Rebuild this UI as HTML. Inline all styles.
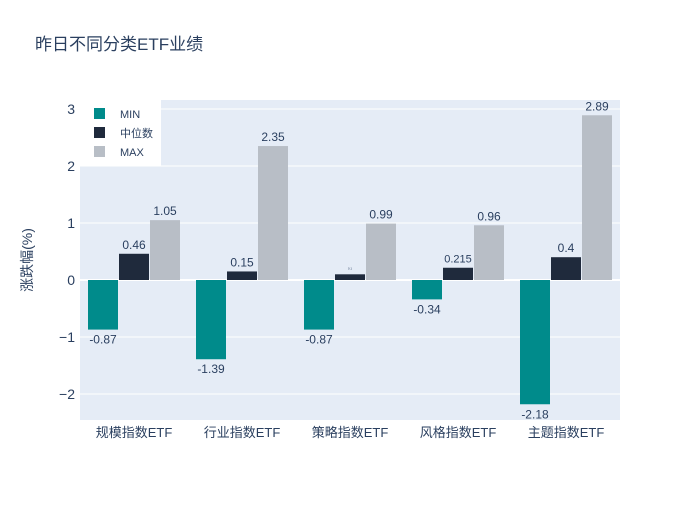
<!DOCTYPE html>
<html><head><meta charset="utf-8"><style>
body{margin:0;background:#fff;font-family:"Liberation Sans","Noto Sans CJK SC",sans-serif;}
</style></head><body>
<svg width="700" height="500" xmlns="http://www.w3.org/2000/svg" font-family="Liberation Sans, Noto Sans CJK SC, sans-serif">
<rect width="700" height="500" fill="#fff"/>
<text x="35" y="50" font-size="17" fill="#2a3f5f">昨日不同分类ETF业绩</text>
<rect x="80" y="100" width="540" height="320" fill="#e5ecf6"/>
<g id="grid"></g>
<g id="bars"></g>
<g id="labels"></g>
<g id="axes"></g>
<text transform="translate(32,260) rotate(-90)" text-anchor="middle" font-size="14" fill="#2a3f5f">涨跌幅(%)</text>
<g>
<rect x="80" y="100" width="81" height="66" fill="#fff"/>
<rect x="94" y="108" width="11" height="11" fill="#008b8b"/>
<text x="120" y="118" font-size="11" fill="#2a3f5f">MIN</text>
<rect x="94" y="127" width="11" height="11" fill="#1f2a3c"/>
<text x="120" y="137" font-size="11" fill="#2a3f5f">中位数</text>
<rect x="94" y="146" width="11" height="11" fill="#b8bec6"/>
<text x="120" y="156" font-size="11" fill="#2a3f5f">MAX</text>
</g>
</svg>
<script>
const categories=["规模指数ETF","行业指数ETF","策略指数ETF","风格指数ETF","主题指数ETF"];
const minVals=[-0.87,-1.39,-0.87,-0.34,-2.18];
const medVals=[0.46,0.15,0.1,0.215,0.4];
const maxVals=[1.05,2.35,0.99,0.96,2.89];
const medLabels=["0.46","0.15","0.1","0.215","0.4"];
const yTicks=[-2,-1,0,1,2,3];
const NS="http://www.w3.org/2000/svg";
const y=v=>280-v*57;
const x=i=>80+108*i+54;
function mk(tag,attrs,parent){const e=document.createElementNS(NS,tag);for(const k in attrs)e.setAttribute(k,attrs[k]);document.getElementById(parent).appendChild(e);return e;}
yTicks.forEach(t=>{
 if(t!==0){const g=mk('line',{x1:80,x2:620,y1:y(t),y2:y(t),stroke:'#fff','stroke-width':1},'grid');
 
 }
 const l=mk('text',{x:75,y:y(t)+5,'text-anchor':'end','font-size':14,fill:'#2a3f5f'},'axes');
 l.textContent=t<0?'\u2212'+(-t):String(t);
 
 
});
const z=mk('line',{x1:80,x2:620,y1:y(0),y2:y(0),stroke:'#fff','stroke-width':2},'grid');


const series=[[minVals,'#008b8b',-31,'min'],[medVals,'#1f2a3c',0,'median'],[maxVals,'#b8bec6',31,'max']];
categories.forEach((c,i)=>{
 const t=mk('text',{x:x(i),y:437,'text-anchor':'middle','font-size':13,fill:'#2a3f5f'},'axes');
 t.textContent=c;
 
 
 series.forEach(([vals,col,off,nm])=>{
  const v=vals[i],cx=x(i)+off;
  const r=mk('rect',{x:cx-15,width:30,y:Math.min(y(v),y(0)),height:Math.abs(y(v)-y(0)),fill:col},'bars');
  
  
  const small=nm==='median'&&v<0.12;
  const lab=mk('text',{x:cx,y:v>=0?y(v)-5:y(v)+14,'text-anchor':'middle','font-size':small?3:(nm==='median'&&v<0.3&&v>0.2?11:12),fill:'#2a3f5f'},'labels');
  lab.textContent=nm==='median'?medLabels[i]:String(v);
  
  
 });
});
</script>
</body></html>
